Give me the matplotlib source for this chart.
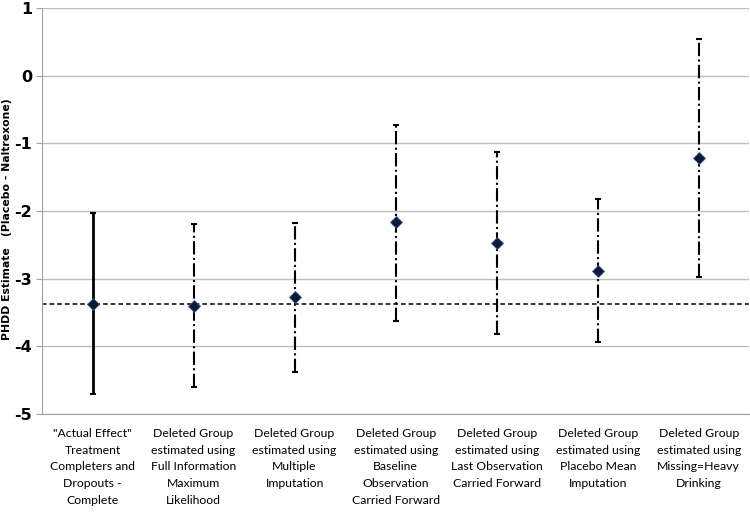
import matplotlib.pyplot as plt

plt.rcParams['axes.unicode_minus'] = False

categories = ['"Actual Effect"\nTreatment\nCompleters and\nDropouts -\nComplete',
              'Deleted Group\nestimated using\nFull Information\nMaximum\nLikelihood',
              'Deleted Group\nestimated using\nMultiple\nImputation',
              'Deleted Group\nestimated using\nBaseline\nObservation\nCarried Forward',
              'Deleted Group\nestimated using\nLast Observation\nCarried Forward',
              'Deleted Group\nestimated using\nPlacebo Mean\nImputation',
              'Deleted Group\nestimated using\nMissing=Heavy\nDrinking']
estimate = [-3.37, -3.40, -3.27, -2.16, -2.47, -2.88, -1.21]
upper = [-2.03, -2.19, -2.17, -0.72, -1.12, -1.82, 0.55]
lower = [-4.71, -4.60, -4.38, -3.62, -3.82, -3.94, -2.97]
reference = -3.37

fig = plt.figure(figsize=(7.5, 5.16), dpi=100)
ax = fig.add_axes([0.056, 0.198, 0.943, 0.786])

for i, (m, hi, lo) in enumerate(zip(estimate, upper, lower)):
    ls = '-' if i == 0 else '-.'
    lw = 2.0 if i == 0 else 1.5
    eb = ax.errorbar(i, m, yerr=[[m - lo], [hi - m]], fmt='none', ecolor='black',
                     elinewidth=lw, capsize=2.5, capthick=1.5, zorder=3)
    eb[2][0].set_linestyle(ls)
    ax.plot(i, m, marker='D', ms=6, color='#0b1a36', mec='#3a5a9a', mew=0.6, zorder=4)

ax.axhline(reference, color='black', ls=(0, (3, 2)), lw=1.1, zorder=2)

ax.set_xlim(-0.5, len(categories) - 0.5)
ax.set_ylim(-5, 1)
ax.set_yticks(range(-5, 2))
ax.yaxis.grid(True, color='#bdbdbd', lw=1)
ax.set_axisbelow(True)
for s in ['top', 'right']:
    ax.spines[s].set_visible(False)
ax.spines['left'].set_color('#a0a0a0')
ax.spines['bottom'].set_color('#a0a0a0')
ax.tick_params(axis='y', length=4, color='#a0a0a0', pad=3, labelsize=11.5)
for t in ax.get_yticklabels():
    t.set_fontweight('bold')
ax.set_xticks(range(len(categories)))
ax.set_xticklabels(categories, fontsize=8.8, family='Lato', linespacing=1.65, va='top')
ax.tick_params(axis='x', length=0, pad=10)
fig.text(0.009, 0.575, 'PHDD Estimate   (Placebo - Naltrexone)', rotation=90,
         fontsize=7.8, fontweight='bold', ha='center', va='center')

fig.savefig('out.png', dpi=100)
